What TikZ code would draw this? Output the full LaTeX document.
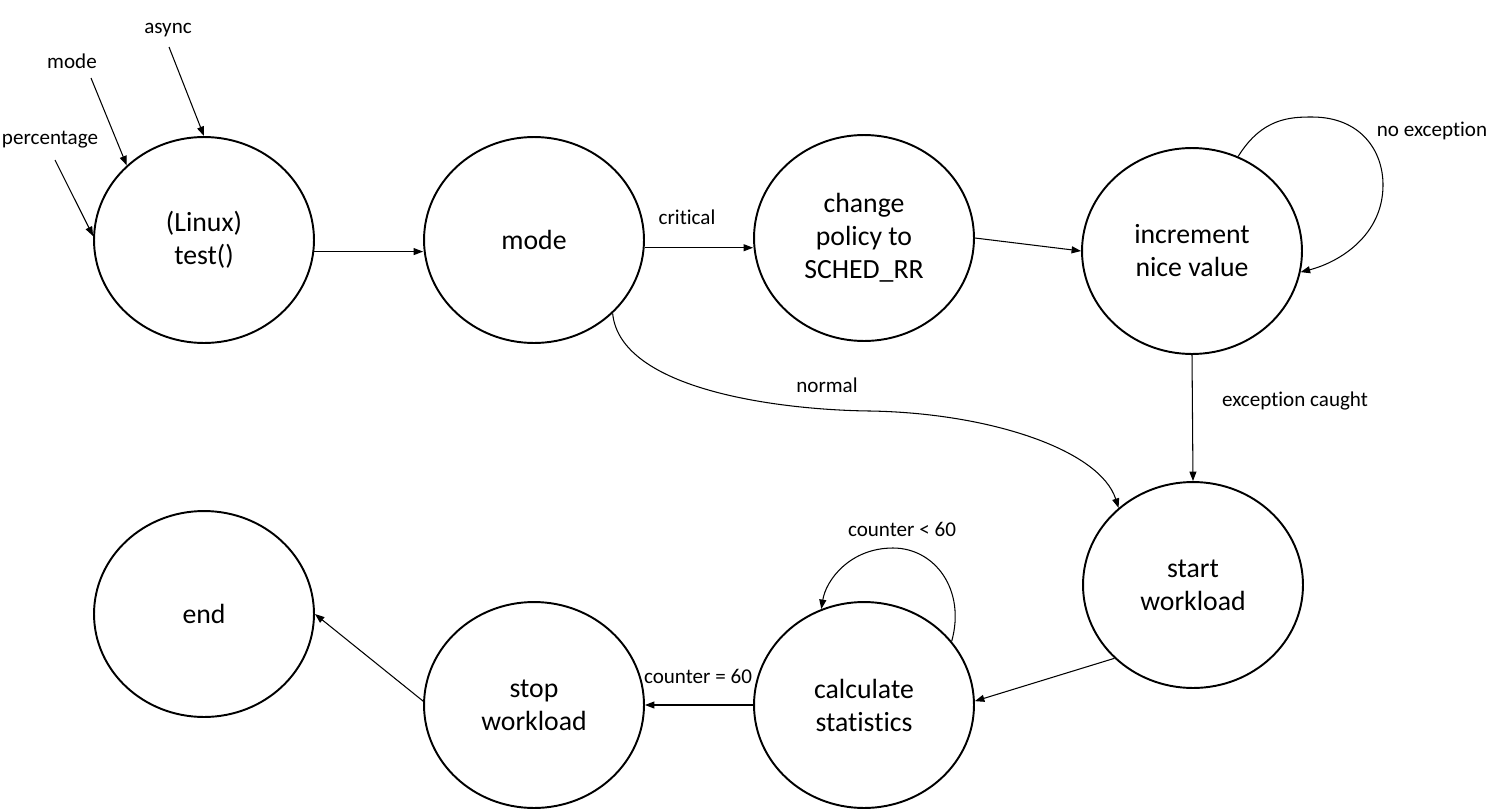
\documentclass[tikz,border=0pt]{standalone}
\usepackage{fontspec}
\setmainfont{Carlito}[Ligatures=NoCommon]
\usetikzlibrary{shapes.geometric,arrows.meta}
\tikzset{
  state/.style={ellipse, draw, line width=1.1pt, minimum width=4.4cm, minimum height=4.12cm, inner sep=0pt, align=center, font=\fontsize{15.8pt}{18.8pt}\selectfont},
  lbl/.style={font=\fontsize{12pt}{14pt}\selectfont, inner sep=1pt},
  conn/.style={line width=0.6pt, -{Triangle[length=0.19cm,width=0.14cm]}}
}
\begin{document}
\begin{tikzpicture}[x=0.02cm, y=-0.02cm]
\useasboundingbox (0,0) rectangle (1490,808);
% states
\node[state] (test) at (204,240) {(Linux)\\test()};
\node[state] (mode) at (534,240) {mode};
\node[state] (change) at (864,238) {change\\policy to\\SCHED\_RR};
\node[state] (inc) at (1192,251) {increment\\nice value};
\node[state] (start) at (1193,585) {start\\workload};
\node[state] (calc) at (864,705) {calculate\\statistics};
\node[state] (stop) at (534,705) {stop\\workload};
\node[state] (end) at (204,614) {end};
% labels
\node[lbl] (lasync) at (168,30) {async};
\node[lbl] (lmode) at (72,61) {mode};
\node[lbl] (lpct) at (50,140) {percentage};
\node[lbl] (lcrit) at (687,217) {critical};
\node[lbl] (lnoex) at (1432,131) {no exception};
\node[lbl] (lnorm) at (827,385) {normal};
\node[lbl] (lexc) at (1295,401) {exception caught};
\node[lbl] (llt) at (902,529) {counter < 60};
\node[lbl] (leq) at (698,676) {counter = 60};
% input arrow starts
\coordinate (pasync) at (169,47);
\coordinate (pmode) at (91,78);
\coordinate (ppct) at (55,160);
% connectors
\draw[conn] (pasync) -- (test.north);
\draw[conn] (pmode) -- (test.136.5);
\draw[conn] (ppct) -- (test.178);
\draw[conn] (test.-6.3) -- (test.-6.3 -| mode.west);
\draw[conn] (mode.-4.3) -- (mode.-4.3 -| change.west);
\draw[conn] (change.east) -- (inc.west);
\draw[conn] (inc.64) .. controls (1262,118) and (1290,117) .. (1312,117)
  .. controls (1360,117) and (1383,150) .. (1383,185)
  .. controls (1383,235) and (1340,262) .. (inc.-11);
\draw[conn] (inc.south) -- (start.north);
\draw[conn] (mode.-43.5) .. controls (620,390) and (780,410) .. (870,411)
  .. controls (990,413) and (1100,450) .. (start.134);
\draw[conn] (start.223) -- (calc.2);
\draw[conn] (calc.36) .. controls (966,590) and (935,548) .. (893,548)
  .. controls (850,548) and (826,580) .. (calc.114);
\draw[conn] (calc.west) -- (stop.east);
\draw[conn] (stop.178) -- (end.east);
\end{tikzpicture}
\end{document}
